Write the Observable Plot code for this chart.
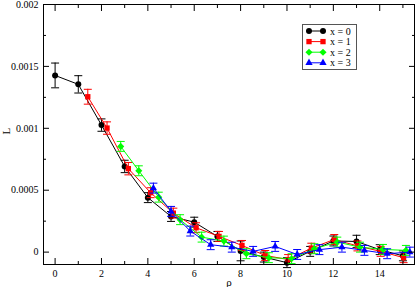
<!DOCTYPE html>
<html><head><meta charset="utf-8">
<script src="https://cdn.jsdelivr.net/npm/d3@7"></script>
<script src="https://cdn.jsdelivr.net/npm/@observablehq/plot@0.6"></script>
<style>
body{margin:0;background:#fff;}
#wrap{position:relative;width:415px;height:287px;}
#wrap svg{font-family:"Liberation Serif","Times New Roman",serif;}
#legend{position:absolute;left:302px;top:24px;}
</style></head><body><div id="wrap"></div>
<script>
const seriesNames = ["x = 0", "x = 1", "x = 2", "x = 3"];
const colors = ["#000000", "#ff0000", "#00ff00", "#0000ff"];
const symbolNames = ["circle", "square", "diamond2", "triangle"];
const symbolR = [3, 3, 3.2, 2.7];

const rho0 = [0, 1, 2, 3, 4, 5, 6, 7, 8, 9, 10, 11, 12, 13, 14, 15];
const L0 = [0.001427, 0.001355, 0.001026, 0.000692, 0.00044, 0.000288, 0.000242, 0.000127, 0.00001, -0.00004, -0.000085, 0.000006, 0.00009, 0.000086, 0.00002, -0.00003];
const E0 = [0.0001, 0.00007, 0.00005, 0.00005, 0.00004, 0.00004, 0.00004, 0.00004, 0.00008, 0.00004, 0.00004, 0.00004, 0.00004, 0.00005, 0.00004, 0.00004];

const rho1 = [1.41, 2.24, 3.16, 4.12, 5.10, 6.08, 7.07, 8.06, 9.06, 10.05, 11.05, 12.04, 13.04, 14.04, 15.03];
const L1 = [0.001255, 0.001002, 0.000674, 0.00048, 0.000315, 0.000197, 0.000127, 0.000054, -0.000027, -0.00006, 0.000032, 0.000102, 0.00005, 0.000006, -0.000045];
const E1 = [0.00006, 0.00005, 0.00005, 0.00004, 0.00004, 0.00004, 0.00004, 0.00004, 0.00004, 0.00004, 0.00004, 0.00004, 0.00004, 0.00004, 0.00004];

const rho2 = [2.83, 3.61, 4.47, 5.39, 6.32, 7.28, 8.25, 9.22, 10.20, 11.18, 12.17, 13.15, 14.14, 15.13];
const L2 = [0.000854, 0.000657, 0.000444, 0.000262, 0.000121, 0.000089, -0.000013, -0.000045, -0.000053, 0.000027, 0.000081, 0.00004, 0.000022, 0.000014];
const E2 = [0.00004, 0.00004, 0.00004, 0.00004, 0.00004, 0.00004, 0.00004, 0.00004, 0.00004, 0.00004, 0.00004, 0.00004, 0.00004, 0.00004];

const rho3 = [4.24, 5.00, 5.83, 6.71, 7.62, 8.54, 9.49, 10.44, 11.40, 12.37, 13.34, 14.32, 15.30];
const L3 = [0.000517, 0.000329, 0.00017, 0.00006, 0.00004, 0.000006, 0.000046, -0.000019, 0.00002, 0.00004, 0.000014, -0.000013, 0];
const E3 = [0.00004, 0.00004, 0.00004, 0.00004, 0.00004, 0.00004, 0.00004, 0.00004, 0.00004, 0.00004, 0.00004, 0.00004, 0.00004];

const xMajor = [0, 2, 4, 6, 8, 10, 12, 14];
const xMinor = [1, 3, 5, 7, 9, 11, 13, 15];
const yMajor = [0, 0.0005, 0.001, 0.0015, 0.002];
const yMinor = [0.00025, 0.00075, 0.00125, 0.00175];
const xDomain = [-0.5, 15.5];
const yDomain = [-0.0001, 0.002];

const rhos = [rho0, rho1, rho2, rho3];
const Ls = [L0, L1, L2, L3];
const Es = [E0, E1, E2, E3];

const capSymbol = {draw(ctx, size) { const w = Math.sqrt(size / Math.PI); ctx.moveTo(-w, 0); ctx.lineTo(w, 0); }};

const marks = [];
seriesNames.forEach((name, i) => {
  const data = rhos[i].map((r, j) => ({rho: r, L: Ls[i][j], e: Es[i][j]}));
  marks.push(Plot.line(data, {x: "rho", y: "L", stroke: colors[i], strokeWidth: 1}));
  marks.push(Plot.ruleX(data, {x: "rho", y1: d => d.L - d.e, y2: d => d.L + d.e, stroke: colors[i], strokeWidth: 1}));
  marks.push(Plot.dot(data, {x: "rho", y: d => d.L + d.e, symbol: capSymbol, r: 4, stroke: colors[i], strokeWidth: 1}));
  marks.push(Plot.dot(data, {x: "rho", y: d => d.L - d.e, symbol: capSymbol, r: 4, stroke: colors[i], strokeWidth: 1}));
  marks.push(Plot.dot(data, {x: "rho", y: "L", symbol: symbolNames[i], r: symbolR[i], fill: colors[i], stroke: "none"}));
});

const blank = () => "";
const chart = Plot.plot({
  width: 415, height: 287,
  marginLeft: 43, marginRight: 1, marginTop: 4, marginBottom: 23,
  style: {fontFamily: "Liberation Serif, serif", fontSize: "10px", color: "#000", background: "#fff"},
  x: {domain: xDomain},
  y: {domain: yDomain},
  marks: [
    ...marks,
    Plot.frame({stroke: "#000", strokeWidth: 1}),
    Plot.axisX(xMajor, {anchor: "bottom", tickSize: 0, tickPadding: 5, fontSize: 10, label: null}),
    Plot.axisX(xMajor, {anchor: "bottom", tickSize: -6, tickFormat: blank, label: null}),
    Plot.axisX(xMinor, {anchor: "bottom", tickSize: -3, tickFormat: blank, label: null}),
    Plot.axisX(xMajor, {anchor: "top", tickSize: -6, tickFormat: blank, label: null}),
    Plot.axisX(xMinor, {anchor: "top", tickSize: -3, tickFormat: blank, label: null}),
    Plot.axisY(yMajor, {anchor: "left", tickSize: 0, tickPadding: 5, fontSize: 10, tickFormat: d => String(d), label: null}),
    Plot.axisY(yMajor, {anchor: "left", tickSize: -6, tickFormat: blank, label: null}),
    Plot.axisY(yMinor, {anchor: "left", tickSize: -3, tickFormat: blank, label: null}),
    Plot.axisY(yMajor, {anchor: "right", tickSize: -6, tickFormat: blank, label: null}),
    Plot.axisY(yMinor, {anchor: "right", tickSize: -3, tickFormat: blank, label: null}),
    Plot.text(["ρ"], {frameAnchor: "bottom", dy: 18, lineAnchor: "middle", fontSize: 11}),
    Plot.text(["L"], {frameAnchor: "left", dx: -37, rotate: -90, fontSize: 11})
  ]
});
document.getElementById("wrap").appendChild(chart);

// legend
const lg = d3.select("#wrap").append("svg").attr("id", "legend").attr("width", 55).attr("height", 46);
lg.append("rect").attr("x", 0.5).attr("y", 0.5).attr("width", 54).attr("height", 45).attr("fill", "#fff").attr("stroke", "#555");
const symMap = {circle: d3.symbolCircle, square: d3.symbolSquare, diamond2: d3.symbolDiamond2, triangle: d3.symbolTriangle};
seriesNames.forEach((name, i) => {
  const y = 7 + i * 10.6;
  const g = lg.append("g");
  g.append("line").attr("x1", 7).attr("x2", 21).attr("y1", y).attr("y2", y).attr("stroke", colors[i]);
  [7, 21].forEach(x => g.append("path").attr("d", d3.symbol(symMap[symbolNames[i]], Math.PI * symbolR[i] ** 2)()).attr("transform", `translate(${x},${y})`).attr("fill", colors[i]));
  g.append("text").attr("x", 28).attr("y", y).attr("dy", "0.35em").attr("font-size", 10).attr("font-family", "Liberation Serif, serif").text(name);
});
</script></body></html>
